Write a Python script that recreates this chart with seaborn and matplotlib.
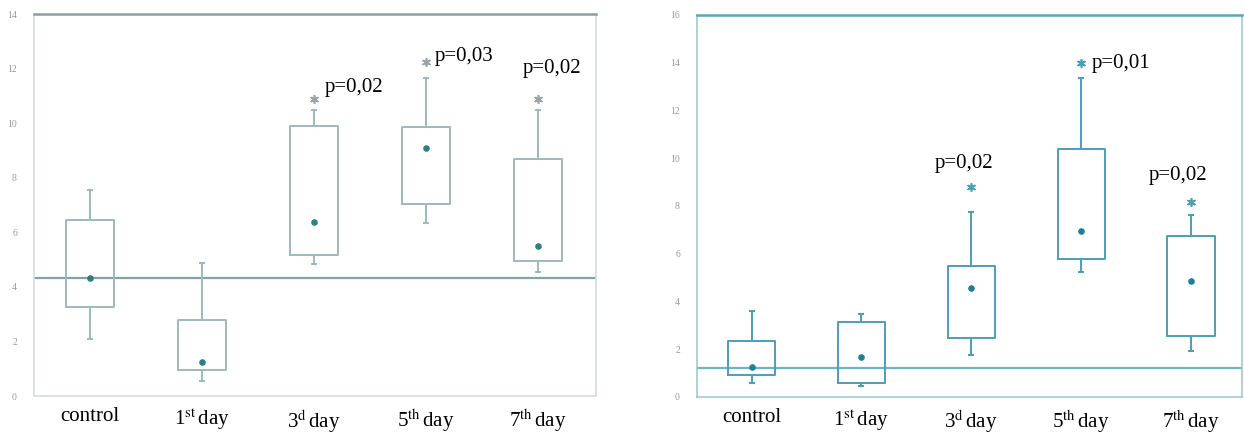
import pandas as pd
import seaborn as sns
import matplotlib.pyplot as plt
import numpy as np

# categories and tick labels
groups = ['control', '1st', '3d', '5th', '7th']
tick_labels = ['control', r'1$^{\mathrm{st}}\,$day', r'3$^{\mathrm{d}}\,$day',
               r'5$^{\mathrm{th}}\,$day', r'7$^{\mathrm{th}}\,$day']

# left panel: whisker low, q1, median, q3, whisker high
left_lo = [2.1, 0.55, 4.83, 6.34, 4.54]
left_q1 = [3.26, 0.95, 5.16, 7.03, 4.94]
left_med = [4.32, 1.25, 6.37, 9.08, 5.49]
left_q3 = [6.45, 2.78, 9.89, 9.85, 8.68]
left_hi = [7.55, 4.87, 10.48, 11.65, 10.48]
left_star = [None, None, 10.9, 12.23, 10.9]
left_p = [None, None, 'p=0,02', 'p=0,03', 'p=0,02']
left_ref = 4.32

# right panel
right_lo = [0.59, 0.46, 1.76, 5.23, 1.92]
right_q1 = [0.92, 0.59, 2.47, 5.77, 2.55]
right_med = [1.26, 1.68, 4.56, 6.95, 4.85]
right_q3 = [2.35, 3.14, 5.49, 10.38, 6.74]
right_hi = [3.6, 3.48, 7.74, 13.35, 7.6]
right_star = [None, None, 8.79, 13.97, 8.16]
right_p = [None, None, 'p=0,02', 'p=0,01', 'p=0,02']
right_ref = 1.2

plt.rcParams['font.family'] = ['Liberation Serif', 'DejaVu Serif']
plt.rcParams['mathtext.fontset'] = 'stix'


def make_df(lo, q1, med, q3, hi):
    rows = []
    for g, a, b, c, d, e in zip(groups, lo, q1, med, q3, hi):
        for v in (a, b, c, d, e):
            rows.append({'group': g, 'value': v})
    return pd.DataFrame(rows)


def draw_panel(ax, df, med, lo, hi, star, ptxt, ref, ymax, col, dotcol, spinecol,
               topcol, refcol, starcol, xlim, p_pos):
    sns.boxplot(data=df, x='group', y='value', ax=ax, whis=(0, 100), width=0.43,
                fill=False, color=col, linewidth=1.4, showcaps=False,
                medianprops={'linewidth': 0})
    x = np.arange(len(groups))
    ax.scatter(x, med, s=14, color=dotcol, zorder=5)
    ax.scatter(x, lo, marker='_', s=25, color=col, zorder=5)
    ax.scatter(x, hi, marker='_', s=25, color=col, zorder=5)
    sx = [i for i, s in enumerate(star) if s is not None]
    sy = [s for s in star if s is not None]
    ax.scatter(sx, sy, marker=(6, 2, 0), s=30, color=starcol, linewidth=1.2, zorder=5)
    for i, t in zip(sx, [p for p in ptxt if p is not None]):
        dx, dy, ha = p_pos[i]
        ax.text(i + dx, star[i] + dy, t, fontsize=15, ha=ha, va='center')
    ax.axhline(ref, color=refcol, lw=1.6, zorder=1)
    ax.set_xlim(*xlim)
    ax.set_ylim(0, ymax)
    ax.set_yticks(np.arange(0, ymax + 1, 2))
    ax.tick_params(axis='y', labelsize=7, labelcolor='#9a9a9a', length=0, pad=12)
    ax.tick_params(axis='x', length=0, pad=8)
    ax.set_xticks(x)
    ax.set_xticklabels(tick_labels, fontsize=15)
    ax.set_xlabel('')
    ax.set_ylabel('')
    for s in ['left', 'right', 'bottom']:
        ax.spines[s].set_color(spinecol)
        ax.spines[s].set_linewidth(1.2)
    ax.spines['top'].set_color(topcol)
    ax.spines['top'].set_linewidth(1.8)


fig = plt.figure(figsize=(12.44, 4.34), dpi=100)
ax1 = fig.add_axes([0.027, 0.0875, 0.452, 0.88])
ax2 = fig.add_axes([0.560, 0.0855, 0.438, 0.880])

draw_panel(ax1, make_df(left_lo, left_q1, left_med, left_q3, left_hi),
           left_med, left_lo, left_hi, left_star, left_p, left_ref, 14,
           '#9dbabd', '#2f7e80', '#d4dde0', '#8a9fa3', '#7fa3a8', '#9aa3a5',
           (-0.507, 4.52),
           {2: (0.1, 0.4, 'left'), 3: (0.08, 0.2, 'left'), 4: (0.13, 1.1, 'center')})
draw_panel(ax2, make_df(right_lo, right_q1, right_med, right_q3, right_hi),
           right_med, right_lo, right_hi, right_star, right_p, right_ref, 16,
           '#4a9fb5', '#1d7f98', '#9fcad6', '#5aa5bb', '#6fb3c6', '#4a9fb5',
           (-0.5, 4.46),
           {2: (-0.07, 1.0, 'center'), 3: (0.1, 0.0, 'left'), 4: (-0.12, 1.1, 'center')})

fig.savefig('out.png', dpi=100)
